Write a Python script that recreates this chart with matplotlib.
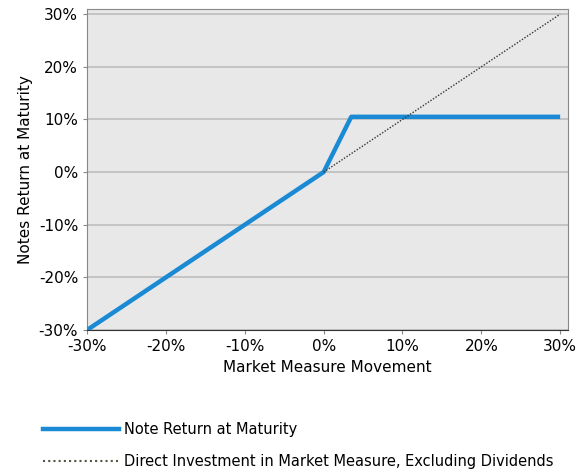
import numpy as np
import matplotlib
matplotlib.use('Agg')
import matplotlib.pyplot as plt
from matplotlib.lines import Line2D
from matplotlib.ticker import FuncFormatter

# Werte
markt = [-30, 0, 3.5, 30]
note_rendite = [-30, 0, 10.5, 10.5]
direkt_x = [0, 30]
direkt_y = [0, 30]
ticks = [-30, -20, -10, 0, 10, 20, 30]
labels = ['Note Return at Maturity', 'Direct Investment in Market Measure, Excluding Dividends']

fig = plt.figure(figsize=(5.85, 4.70), dpi=100)
ax = fig.add_axes([0.149, 0.298, 0.822, 0.683])
ax.set_facecolor('#e8e8e8')

ax.plot(markt, note_rendite, color='#1a8ad4', linewidth=3.2, solid_capstyle='butt', zorder=3)
ax.plot(direkt_x, direkt_y, color='#333333', linewidth=1.0, linestyle=(0, (1, 1.2)), zorder=4)

ax.set_xlim(-30, 31)
ax.set_ylim(-30, 31)
ax.set_xticks(ticks)
ax.set_yticks(ticks)
pct = FuncFormatter(lambda v, p: f'{v:.0f}%')
ax.xaxis.set_major_formatter(pct)
ax.yaxis.set_major_formatter(pct)
ax.tick_params(labelsize=11, length=3, color='#888888')
ax.grid(axis='y', color='#bdbdbd', linewidth=1.2)
ax.set_axisbelow(True)
for s in ['top', 'right', 'left']:
    ax.spines[s].set_color('#888888')
ax.spines['bottom'].set_color('#333333')

ax.set_xlabel('Market Measure Movement', fontsize=11)
ax.set_ylabel('Notes Return at Maturity', fontsize=11)

# Legende unterhalb der Grafik
h = [Line2D([], [], color='#1a8ad4', linewidth=3.2),
     Line2D([], [], color='#555544', linewidth=1.5, linestyle=(0, (1, 1.5)))]
fig.legend(h, labels, loc='upper left', bbox_to_anchor=(0.063, 0.115), frameon=False,
           fontsize=10.5, handlelength=5.2, handletextpad=0.4, labelspacing=1.2,
           borderaxespad=0)

fig.savefig('out.png', dpi=100)
